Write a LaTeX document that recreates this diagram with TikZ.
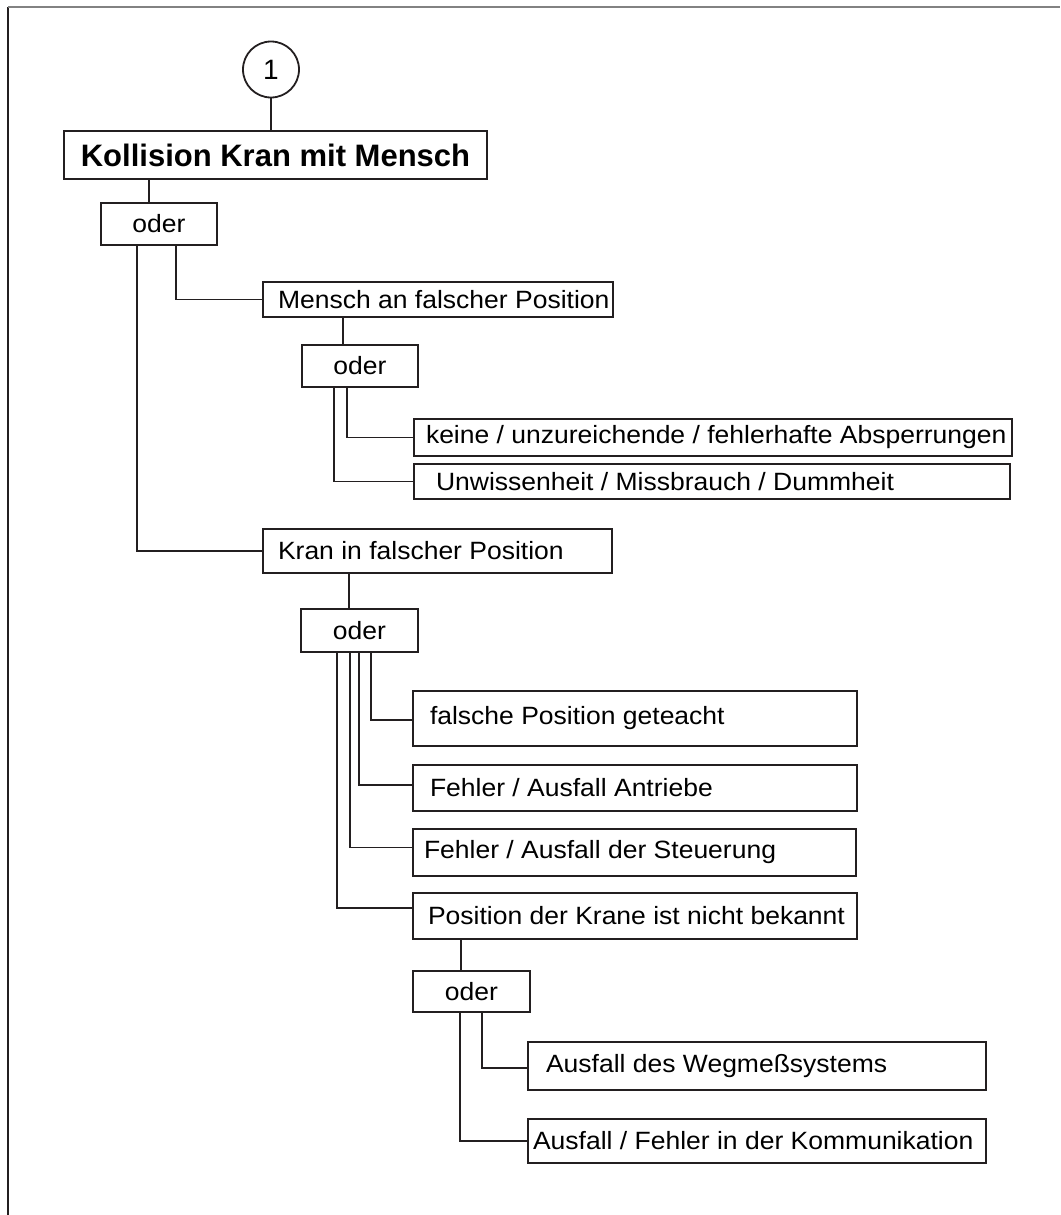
\documentclass[tikz,border=0pt]{standalone}
\usepackage{fontspec}
\setmainfont{Liberation Sans}
\newfontfamily\boxfont[FakeStretch=1.06]{Liberation Sans}
\definecolor{ink}{RGB}{35,31,32}
\definecolor{rule}{RGB}{130,130,130}
% left-aligned line of given width inside a box
\newcommand{\lline}[2]{\makebox[#1pt][l]{#2}}
\begin{document}
\begin{tikzpicture}[x=1pt, y=-1pt,
  every node/.style={outer sep=0pt},
  frame/.style={draw=ink, line width=1.8pt, rectangle, inner ysep=0pt, anchor=north west},
  leaf/.style={frame, font=\boxfont\fontsize{25}{29}\selectfont},
  gate/.style={frame, align=center, inner xsep=0pt, font=\boxfont\fontsize{25}{29}\selectfont},
  wire/.style={draw=ink, line width=1.8pt},
]
\useasboundingbox (0,0) rectangle (1060,1215);

% page frame (left and top edges)
\draw[draw=ink, line width=1.6pt] (8,1215) -- (8,7);
\draw[draw=rule, line width=1.6pt] (8,7) -- (1060,7);

% top event
\node[draw=ink, line width=1.8pt, circle, minimum size=56, inner sep=0pt,
      font=\fontsize{28}{31}\selectfont] (c1) at (271,69.5) {1};
\node[frame, align=center, minimum width=423, minimum height=48, inner xsep=0pt,
      font=\bfseries\fontsize{31}{36}\selectfont] (top) at (64,131) {Kollision Kran mit Mensch};
\node[gate, minimum width=116, minimum height=42] (or1) at (101,203) {oder};

% branch: person in wrong place
\node[leaf, minimum height=35, inner xsep=15] (mensch) at (263,282) {\lline{320}{Mensch an falscher Position}};
\node[gate, minimum width=116, minimum height=42] (or2) at (302,345) {oder};
\node[leaf, minimum height=37, inner xsep=12] (absp) at (414,419) {\lline{574}{keine / unzureichende / fehlerhafte Absperrungen}};
\node[leaf, minimum height=35, inner xsep=22] (unw) at (414,464) {\lline{552}{Unwissenheit / Missbrauch / Dummheit}};

% branch: crane in wrong place
\node[leaf, minimum height=44, inner xsep=15] (kran) at (263,529) {\lline{319}{Kran in falscher Position}};
\node[gate, minimum width=117, minimum height=43] (or3) at (301,609) {oder};
\node[leaf, minimum height=55, inner xsep=17] (teach) at (413,691) {\lline{410}{falsche Position geteacht}};
\node[leaf, minimum height=46, inner xsep=17] (antr) at (413,765) {\lline{410}{Fehler / Ausfall Antriebe}};
\node[leaf, minimum height=47, inner xsep=11] (steu) at (413,829) {\lline{421}{Fehler / Ausfall der Steuerung}};
\node[leaf, minimum height=46, inner xsep=15] (pos) at (413,893) {\lline{414}{Position der Krane ist nicht bekannt}};
\node[gate, minimum width=117, minimum height=41] (or4) at (413,971) {oder};
\node[leaf, minimum height=48, inner xsep=18] (weg) at (528,1042) {\lline{422}{Ausfall des Wegmeßsystems}};
\node[leaf, minimum height=44, inner xsep=5] (komm) at (528,1119) {\lline{448}{Ausfall / Fehler in der Kommunikation}};

% connectors
\draw[wire] (c1.south) -- (c1.south |- top.north);
\draw[wire] ([xshift=-126.5pt]top.south) -- ([xshift=-10pt]or1.north);
\draw[wire] ([xshift=17pt]or1.south) |- (mensch.west);
\draw[wire] ([xshift=-22pt]or1.south) |- (kran.west);

\draw[wire] ([xshift=-95pt]mensch.south) -- ([xshift=-17pt]or2.north);
\draw[wire] ([xshift=-13pt]or2.south) |- (absp.west);
\draw[wire] ([xshift=-26pt]or2.south) |- (unw.west);

\draw[wire] ([xshift=-88.5pt]kran.south) -- ([xshift=-10.5pt]or3.north);
\draw[wire] ([xshift=11.5pt]or3.south) |- ([yshift=-1.5pt]teach.west);
\draw[wire] ([xshift=-0.5pt]or3.south) |- ([yshift=3pt]antr.west);
\draw[wire] ([xshift=-9.5pt]or3.south) |- ([yshift=5pt]steu.west);
\draw[wire] ([xshift=-22.5pt]or3.south) |- ([yshift=8pt]pos.west);

\draw[wire] ([xshift=-174pt]pos.south) -- ([xshift=-10.5pt]or4.north);
\draw[wire] ([xshift=10.5pt]or4.south) |- ([yshift=-2pt]weg.west);
\draw[wire] ([xshift=-11.5pt]or4.south) |- (komm.west);
\end{tikzpicture}
\end{document}
